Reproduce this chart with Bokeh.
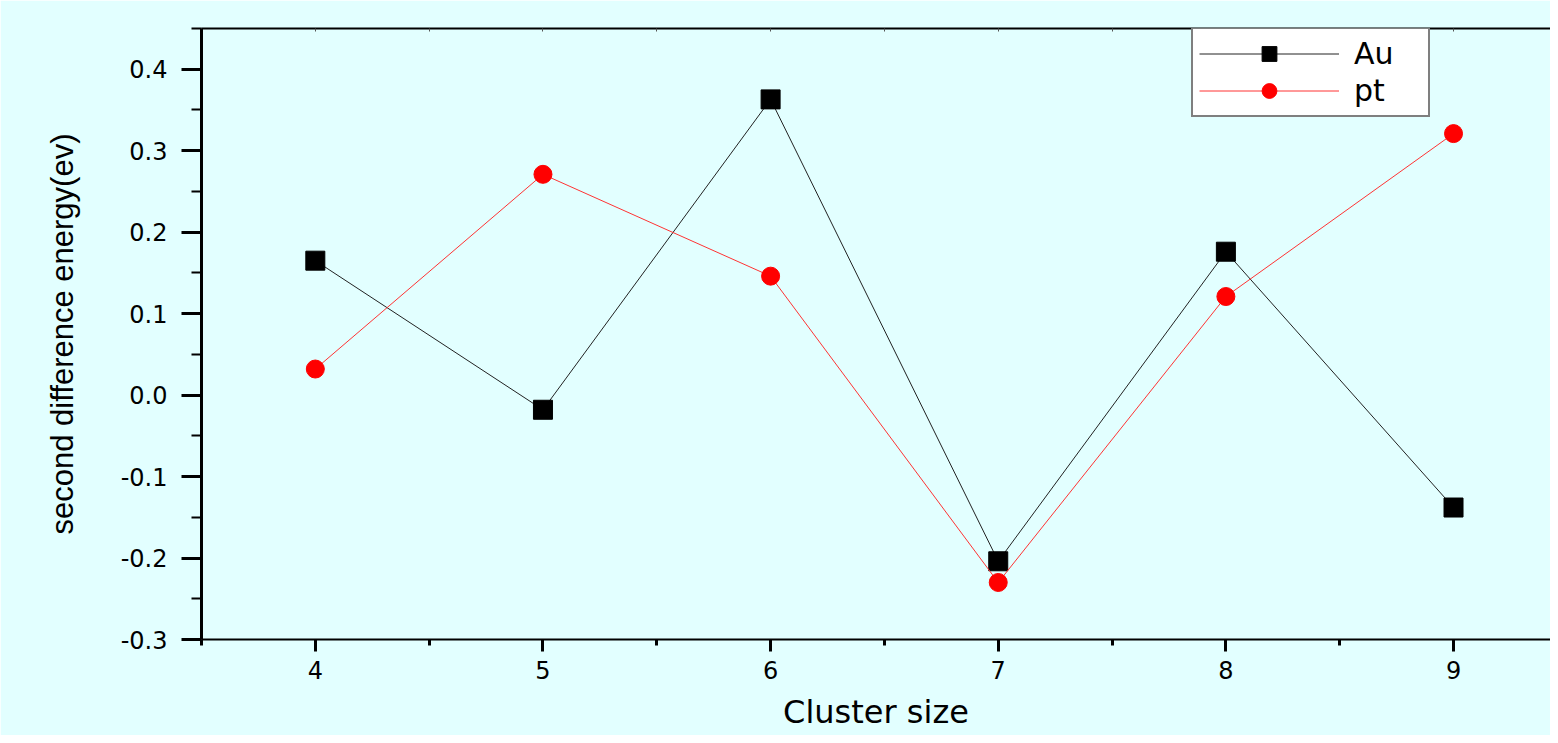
from bokeh.plotting import figure
from bokeh.models import (LinearAxis, FixedTicker, Legend, LegendItem, Range1d,
                          CustomJSTickFormatter)
from bokeh.embed import file_html
from bokeh.resources import INLINE

cluster_size = [4, 5, 6, 7, 8, 9]
au = [0.165, -0.018, 0.363, -0.204, 0.176, -0.138]
pt = [0.032, 0.271, 0.146, -0.230, 0.121, 0.321]
y_ticks = [-0.3, -0.2, -0.1, 0.0, 0.1, 0.2, 0.3, 0.4]
y_minor = [-0.25, -0.15, -0.05, 0.05, 0.15, 0.25, 0.35, 0.45]
x_ticks = [4, 5, 6, 7, 8, 9]
x_minor = [3.5, 4.5, 5.5, 6.5, 7.5, 8.5, 9.5]

BG = "#E2FFFF"
FONT = "DejaVu Sans"

p = figure(width=1550, height=735, output_backend="svg", toolbar_location=None,
           x_range=Range1d(3.5, 9.426), y_range=Range1d(-0.3, 0.45),
           min_border_left=201, min_border_right=0, min_border_top=28, min_border_bottom=96,
           background_fill_color=BG, border_fill_color=BG, x_axis_location=None,
           y_axis_location=None)
p.outline_line_color = None
p.grid.visible = False

# left axis
ya = LinearAxis(ticker=FixedTicker(ticks=y_ticks, minor_ticks=y_minor))
ya.axis_line_width = 3
ya.major_tick_line_width = 3
ya.minor_tick_line_width = 2
ya.major_tick_out = 20
ya.major_tick_in = 0
ya.minor_tick_out = 10
ya.minor_tick_in = 0
ya.major_label_text_font = FONT
ya.major_label_text_font_size = "24px"
ya.major_label_text_color = "black"
ya.major_label_standoff = 14
ya.axis_label = "second difference energy(ev)"
ya.axis_label_text_font = "Liberation Sans"
ya.axis_label_text_font_size = "31px"
ya.axis_label_text_font_style = "normal"
ya.axis_label_text_color = "black"
ya.axis_label_standoff = 38
ya.formatter = CustomJSTickFormatter(code="return tick.toFixed(1);")
p.add_layout(ya, "left")

# bottom axis
xa = LinearAxis(ticker=FixedTicker(ticks=x_ticks, minor_ticks=x_minor))
xa.axis_line_width = 2
xa.major_tick_line_width = 3
xa.minor_tick_line_width = 3
xa.major_tick_out = 12
xa.major_tick_in = 0
xa.minor_tick_out = 6
xa.minor_tick_in = 0
xa.major_label_text_font = FONT
xa.major_label_text_font_size = "24px"
xa.major_label_text_color = "black"
xa.major_label_standoff = 9
xa.axis_label = "Cluster size"
xa.axis_label_text_font = FONT
xa.axis_label_text_font_size = "32px"
xa.axis_label_text_font_style = "normal"
xa.axis_label_text_color = "black"
xa.axis_label_standoff = 11
p.add_layout(xa, "below")

# top border axis
ta = LinearAxis(ticker=FixedTicker(ticks=[], minor_ticks=x_minor + x_ticks))
ta.axis_line_width = 2
ta.minor_tick_in = 3
ta.minor_tick_out = 0
ta.major_tick_in = 0
ta.major_tick_out = 0
ta.minor_tick_line_color = "#555555"
p.add_layout(ta, "above")

au_line = p.line(cluster_size, au, line_color="#222222", line_width=1)
au_pts = p.scatter(cluster_size, au, marker="square", size=19, fill_color="black", line_color="black")
pt_line = p.line(cluster_size, pt, line_color="#FF3333", line_width=1)
pt_pts = p.scatter(cluster_size, pt, marker="circle", size=18, fill_color="red", line_color="red")

legend = Legend(items=[LegendItem(label="Au", renderers=[au_line, au_pts]),
                       LegendItem(label="pt", renderers=[pt_line, pt_pts])],
                location=(990, 522))
legend.background_fill_color = "white"
legend.background_fill_alpha = 1
legend.border_line_color = "black"
legend.border_line_width = 2
legend.label_text_font = FONT
legend.label_text_font_size = "30px"
legend.label_text_color = "black"
legend.glyph_width = 140
legend.glyph_height = 37
legend.label_height = 37
legend.label_width = 68
legend.spacing = 0
legend.padding = 6
legend.margin = 0
legend.label_standoff = 15
p.add_layout(legend, "center")

open("out.html", "w").write(file_html(p, INLINE))
